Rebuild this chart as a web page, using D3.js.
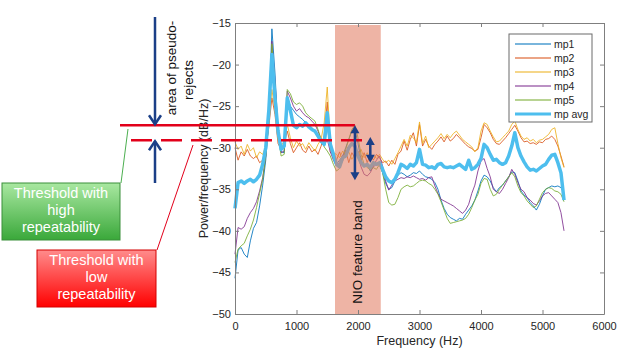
<!DOCTYPE html>
<html>
<head>
<meta charset="utf-8">
<script src="https://cdn.jsdelivr.net/npm/d3@7"></script>
<style>
  body { margin: 0; background: #fff; }
  svg { display: block; font-family: "Liberation Sans", Arial, sans-serif; }
</style>
</head>
<body>
<svg id="chart" width="632" height="351"></svg>
<script>
// frequency grid (Hz)
const freq = [
  0, 50, 100, 150, 200, 250, 300, 350, 400, 450,
  500, 550, 600, 650, 700, 750, 800, 850, 900, 950,
  1000, 1050, 1100, 1150, 1200, 1250, 1300, 1350, 1400, 1450,
  1500, 1550, 1600, 1650, 1700, 1750, 1800, 1850, 1900, 1950,
  2000, 2050, 2100, 2150, 2200, 2250, 2300, 2350, 2400, 2450,
  2500, 2550, 2600, 2650, 2700, 2750, 2800, 2850, 2900, 2950,
  3000, 3050, 3100, 3150, 3200, 3250, 3300, 3350, 3400, 3450,
  3500, 3550, 3600, 3650, 3700, 3750, 3800, 3850, 3900, 3950,
  4000, 4050, 4100, 4150, 4200, 4250, 4300, 4350, 4400, 4450,
  4500, 4550, 4600, 4650, 4700, 4750, 4800, 4850, 4900, 4950,
  5000, 5050, 5100, 5150, 5200, 5250, 5300, 5350
];

const mp1 = [
  -45.7, -42.3, -42.0, -42.8, -43.2, -41.2, -39.7, -39.0, -37.0, -34.5,
  -31.5, -26.5, -15.7, -21.0, -28.0, -30.5, -30.6, -23.8, -25.0, -25.5,
  -26.0, -26.3, -26.6, -27.0, -27.2, -27.6, -28.0, -28.8, -29.4, -29.8,
  -27.5, -30.0, -31.2, -32.0, -31.5, -31.0, -30.0, -29.0, -28.0, -27.8,
  -29.5, -31.5, -32.3, -32.0, -32.8, -32.3, -32.0, -32.0, -33.0, -34.3,
  -35.0, -34.8, -34.0, -33.3, -33.0, -33.2, -33.5, -33.3, -33.0, -33.1,
  -32.8, -33.2, -33.5, -33.6, -33.8, -34.2, -35.0, -36.3, -37.3, -38.0,
  -38.4, -38.6, -38.8, -38.5, -38.6, -38.0, -37.5, -37.0, -36.3, -35.2,
  -34.0, -33.3, -33.5, -34.0, -34.8, -35.3, -34.8, -34.5, -34.0, -33.5,
  -32.9, -33.0, -34.0, -35.2, -35.7, -36.0, -36.6, -37.0, -37.5, -36.8,
  -35.8, -35.0, -34.8, -34.6, -34.7, -34.6, -34.8, -35.5
];

const mp2 = [
  -30.0, -31.5, -30.5, -31.0, -30.2, -31.0, -31.3, -31.0, -31.8, -31.5,
  -30.2, -27.5, -24.0, -26.0, -29.5, -30.2, -29.5, -28.0, -29.5, -30.6,
  -30.0, -29.4, -30.3, -30.6, -29.8, -30.5, -30.2, -30.8, -29.8, -28.5,
  -24.5, -30.5, -31.0, -31.5, -30.5, -31.6, -30.3, -31.8, -30.6, -31.2,
  -30.4, -31.5, -30.6, -31.8, -30.8, -31.5, -30.8, -31.2, -31.8, -31.6,
  -32.2, -31.5, -32.0, -30.8, -30.4, -29.2, -30.3, -29.0, -28.2, -29.8,
  -27.2, -29.8, -29.0, -29.8, -30.2, -29.6, -29.2, -28.7, -29.3, -28.6,
  -29.2, -28.9, -28.4, -28.8, -29.2, -29.6, -29.9, -30.1, -30.4, -30.2,
  -28.8, -27.2, -27.6, -28.2, -29.0, -29.5, -29.6, -29.2, -28.8, -28.3,
  -27.8, -27.3, -28.0, -28.8, -29.3, -29.2, -29.5, -29.4, -29.6, -29.3,
  -29.4, -29.0, -28.9, -28.6, -29.0, -29.8, -31.0, -32.3
];

const mp3 = [
  -29.3, -30.2, -29.8, -30.8, -29.6, -30.4, -30.0, -31.2, -30.5, -30.8,
  -29.8, -27.0, -23.0, -25.5, -29.0, -29.8, -29.2, -27.2, -28.8, -30.0,
  -29.2, -29.8, -29.5, -30.2, -29.4, -29.9, -30.4, -29.6, -29.0, -27.0,
  -22.7, -29.5, -30.6, -30.8, -31.2, -30.4, -31.0, -30.5, -31.4, -30.8,
  -31.0, -30.2, -31.2, -30.6, -31.4, -30.9, -31.3, -30.8, -31.4, -31.8,
  -31.5, -32.0, -31.3, -30.6, -29.8, -29.0, -29.8, -28.5, -28.8, -29.4,
  -26.9, -29.5, -28.6, -30.0, -29.6, -29.2, -28.8, -28.3, -28.9, -28.4,
  -28.8, -28.3, -28.0, -28.5, -29.0, -29.3, -29.6, -29.9, -30.5, -30.0,
  -28.0, -27.0, -27.2, -28.0, -28.7, -29.3, -29.2, -28.8, -28.4, -28.0,
  -27.2, -26.8, -27.8, -28.6, -29.0, -28.8, -29.2, -29.0, -29.4, -29.1,
  -29.0, -28.7, -28.4, -27.8, -27.6, -29.5, -31.2, -32.4
];

const mp4 = [
  -42.8, -39.6, -39.8, -39.5, -38.5, -37.8, -37.3, -36.5, -35.2, -33.6,
  -31.0, -26.5, -17.2, -22.0, -28.0, -30.6, -30.4, -23.2, -24.0, -25.0,
  -25.6, -25.3, -25.8, -26.2, -26.4, -26.8, -27.2, -28.0, -29.0, -29.8,
  -29.0, -30.5, -31.5, -32.2, -31.8, -31.0, -30.5, -30.0, -29.5, -30.0,
  -31.0, -32.3, -33.2, -33.4, -33.0, -32.2, -31.5, -31.0, -32.2, -34.0,
  -35.1, -34.5, -34.0, -33.8, -33.6, -33.7, -33.5, -33.6, -33.4, -33.6,
  -33.8, -33.7, -33.9, -33.6, -33.5, -34.6, -35.5, -36.2, -36.4, -36.6,
  -36.8, -37.0, -37.3, -37.6, -37.9, -37.5, -36.8, -35.5, -34.5, -32.8,
  -31.6, -31.3, -32.5, -33.5, -35.0, -35.3, -35.5, -35.0, -34.3, -33.6,
  -32.6, -33.2, -34.2, -35.0, -35.3, -36.0, -36.3, -36.7, -36.9, -36.4,
  -35.8, -35.5, -35.4, -35.8, -36.2, -36.6, -37.8, -40.0
];

const mp5 = [
  -43.8, -42.2, -41.8, -41.5, -40.6, -39.8, -38.7, -37.2, -35.5, -33.8,
  -31.0, -26.8, -17.5, -22.5, -28.5, -31.0, -30.8, -23.0, -23.5, -24.5,
  -24.8, -24.6, -25.0, -25.8, -26.2, -26.5, -26.8, -27.8, -29.0, -29.9,
  -30.4, -31.0, -32.0, -32.8, -32.5, -31.5, -30.2, -29.0, -27.8, -27.3,
  -28.8, -30.8, -32.0, -32.4, -32.6, -32.4, -32.6, -32.0, -33.0, -35.0,
  -36.6, -36.9, -36.8, -36.0, -35.0, -34.7, -34.5, -34.7, -34.6, -34.3,
  -34.0, -33.9, -34.0, -34.3, -34.5, -35.0, -35.6, -36.5, -37.5, -38.5,
  -39.1, -39.0, -38.9, -38.8, -38.7, -38.5, -38.0, -37.2, -36.3, -35.6,
  -34.3, -33.7, -33.8, -35.0, -35.8, -35.6, -35.0, -34.5, -34.0, -33.5,
  -33.0, -33.5, -34.6, -35.4, -35.8, -36.4, -36.8, -37.2, -37.0, -36.2,
  -35.4, -35.0, -34.8, -34.9, -35.2, -35.3, -35.6, -36.5
];

const mpAvg = [
  -37.3, -34.2, -34.0, -34.3, -34.0, -33.8, -34.1, -33.8, -33.3, -32.0,
  -30.0, -25.5, -18.8, -24.0, -28.0, -30.2, -29.8, -24.0, -25.5, -27.3,
  -27.6, -27.2, -27.4, -27.0, -27.5, -27.8, -28.0, -28.6, -29.2, -29.6,
  -25.8, -29.6, -30.8, -32.0, -32.3, -31.2, -31.0, -30.0, -29.5, -29.8,
  -31.0, -31.8, -32.2, -32.0, -32.4, -31.8, -32.0, -31.8, -32.6, -33.5,
  -34.0, -34.2, -33.8, -33.0, -32.0, -32.2, -32.5, -32.0, -32.2, -31.8,
  -30.2, -32.0, -32.1, -32.4, -32.3, -32.5, -32.0, -31.9, -32.3, -32.4,
  -32.3, -32.4, -32.2, -32.0, -32.3, -32.6, -31.5, -32.6, -32.4, -32.0,
  -31.3, -29.6, -30.0, -30.8, -31.5, -31.4, -31.8, -32.0, -31.8, -31.0,
  -29.8, -28.2, -30.0, -31.0, -31.7, -32.3, -32.7, -32.6, -32.8, -32.5,
  -32.2, -32.0, -31.4, -30.9, -30.8, -31.8, -33.0, -36.3
];

const seriesNames = ["mp1", "mp2", "mp3", "mp4", "mp5", "mp avg"];
const seriesValues = [mp1, mp2, mp3, mp4, mp5, mpAvg];
const seriesColors = ["#0072BD", "#D95319", "#EDB120", "#7E2F8E", "#77AC30", "#4DBEEE"];

const xTicks = [0, 1000, 2000, 3000, 4000, 5000, 6000];
const yTicks = [-50, -45, -40, -35, -30, -25, -20, -15];

// NIO feature band (Hz) and thresholds (dB/Hz)
const band = [1626, 2370];
const thrHigh = -27.3;
const thrLow = -29.1;

const svg = d3.select("#chart");
const plotL = 235, plotR = 604, plotT = 23, plotB = 314;

const x = d3.scaleLinear().domain([0, 6000]).range([plotL, plotR]);
const y = d3.scaleLinear().domain([-50, -15]).range([plotB, plotT]);

// curves
const line = d3.line()
  .x((d, i) => x(freq[i]))
  .y(d => y(d));

seriesValues.forEach((vals, k) => {
  const isAvg = k === 5;
  svg.append("path")
    .datum(vals)
    .attr("d", line)
    .attr("fill", "none")
    .attr("stroke", seriesColors[k])
    .attr("stroke-width", isAvg ? 3.5 : 1)
    .attr("stroke-opacity", isAvg ? 1 : 0.85)
    .attr("stroke-linejoin", "round");
});

// band on top of the curves
svg.append("rect")
  .attr("x", x(band[0]))
  .attr("y", plotT + 2)
  .attr("width", x(band[1]) - x(band[0]))
  .attr("height", plotB - plotT - 1)
  .attr("fill", "#e07a5f")
  .attr("fill-opacity", 0.56);

// axes, boxed like matlab
const fmt = d3.format("");
const axisColor = "#7f7f7f";
function styleAxis(g) {
  g.selectAll("path, line").attr("stroke", axisColor);
  g.selectAll("text")
    .attr("fill", "#262626")
    .style("font-size", "11px")
    .style("font-family", "'Liberation Sans', Arial, sans-serif");
}

svg.append("g")
  .attr("transform", `translate(0,${plotB})`)
  .call(d3.axisBottom(x).tickValues(xTicks).tickFormat(fmt).tickSizeInner(-4).tickSizeOuter(0).tickPadding(8))
  .call(styleAxis);
svg.append("g")
  .attr("transform", `translate(0,${plotT})`)
  .call(d3.axisTop(x).tickValues(xTicks).tickFormat("").tickSizeInner(-4).tickSizeOuter(0))
  .call(styleAxis);
svg.append("g")
  .attr("transform", `translate(${plotL},0)`)
  .call(d3.axisLeft(y).tickValues(yTicks).tickFormat(fmt).tickSizeInner(-4).tickSizeOuter(0).tickPadding(4))
  .call(styleAxis);
svg.append("g")
  .attr("transform", `translate(${plotR},0)`)
  .call(d3.axisRight(y).tickValues(yTicks).tickFormat("").tickSizeInner(-4).tickSizeOuter(0))
  .call(styleAxis);

svg.append("text")
  .attr("x", (plotL + plotR) / 2)
  .attr("y", 345)
  .attr("text-anchor", "middle")
  .attr("fill", "#262626")
  .style("font-size", "12.5px")
  .text("Frequency (Hz)");

svg.append("text")
  .attr("transform", `translate(208,${(plotT + plotB) / 2}) rotate(-90)`)
  .attr("text-anchor", "middle")
  .attr("fill", "#262626")
  .style("font-size", "12.5px")
  .text("Power/frequency (dB/Hz)");

// legend
const lg = svg.append("g").attr("transform", "translate(509,34)");
lg.append("rect")
  .attr("width", 83).attr("height", 88)
  .attr("fill", "#fff")
  .attr("stroke", "#6b6b6b")
  .attr("stroke-width", 1);
seriesNames.forEach((name, k) => {
  const ry = 10 + k * 14;
  lg.append("line")
    .attr("x1", 6).attr("x2", 42)
    .attr("y1", ry).attr("y2", ry)
    .attr("stroke", seriesColors[k])
    .attr("stroke-width", k === 5 ? 3 : 1.5)
    .attr("stroke-opacity", k === 5 ? 1 : 0.7);
  lg.append("text")
    .attr("x", 45).attr("y", ry + 4)
    .attr("fill", "#262626")
    .style("font-size", "10.5px")
    .text(name);
});

// NIO band label
svg.append("text")
  .attr("transform", `translate(362,252) rotate(-90)`)
  .attr("text-anchor", "middle")
  .attr("fill", "#111")
  .style("font-size", "13.5px")
  .text("NIO feature band");

// threshold lines
const red = "#e2001a";
svg.append("line")
  .attr("x1", 120).attr("x2", x(1950))
  .attr("y1", y(thrHigh)).attr("y2", y(thrHigh))
  .attr("stroke", red).attr("stroke-width", 2.5);
svg.append("line")
  .attr("x1", 131).attr("x2", x(2150))
  .attr("y1", y(thrLow)).attr("y2", y(thrLow))
  .attr("stroke", red).attr("stroke-width", 2.5)
  .attr("stroke-dasharray", "21,9");

// arrows
const navy = "#1b3f87";
const ax = 155;
svg.append("line")
  .attr("x1", ax).attr("x2", ax).attr("y1", 17).attr("y2", y(thrHigh) - 1)
  .attr("stroke", navy).attr("stroke-width", 2.5);
svg.append("path")
  .attr("d", `M${ax - 6},${y(thrHigh) - 10} L${ax},${y(thrHigh) - 1} L${ax + 6},${y(thrHigh) - 10}`)
  .attr("fill", "none").attr("stroke", navy).attr("stroke-width", 2.5);
svg.append("line")
  .attr("x1", ax).attr("x2", ax).attr("y1", 183).attr("y2", y(thrLow) + 1)
  .attr("stroke", navy).attr("stroke-width", 2.5);
svg.append("path")
  .attr("d", `M${ax - 6},${y(thrLow) + 10} L${ax},${y(thrLow) + 1} L${ax + 6},${y(thrLow) + 10}`)
  .attr("fill", "none").attr("stroke", navy).attr("stroke-width", 2.5);

function doubleArrow(f, v1, v2) {
  const px = x(f), y1 = y(v1), y2 = y(v2);
  svg.append("line")
    .attr("x1", px).attr("x2", px).attr("y1", y1 + 6).attr("y2", y2 - 6)
    .attr("stroke", navy).attr("stroke-width", 2.5);
  svg.append("path")
    .attr("d", `M${px},${y1} L${px - 4.5},${y1 + 8} L${px + 4.5},${y1 + 8}Z M${px},${y2} L${px - 4.5},${y2 - 8} L${px + 4.5},${y2 - 8}Z`)
    .attr("fill", navy);
}
doubleArrow(1950, thrHigh, -33.9);
doubleArrow(2200, -28.7, -31.8);

// "area of pseudo-rejects"
svg.append("text")
  .attr("transform", "translate(176,68) rotate(-90)")
  .attr("text-anchor", "middle")
  .attr("fill", "#111")
  .style("font-size", "13.5px")
  .text("area of pseudo-");
svg.append("text")
  .attr("transform", "translate(193,80) rotate(-90)")
  .attr("text-anchor", "middle")
  .attr("fill", "#111")
  .style("font-size", "13.5px")
  .text("rejects");

// callout boxes
const defs = svg.append("defs");
function grad(id, c1, c2) {
  const g = defs.append("linearGradient").attr("id", id)
    .attr("x1", 0).attr("y1", 0).attr("x2", 0).attr("y2", 1);
  g.append("stop").attr("offset", "0%").attr("stop-color", c1);
  g.append("stop").attr("offset", "100%").attr("stop-color", c2);
}
grad("gGreen", "#a9e8a1", "#3aa83a");
grad("gRed", "#ff8c8c", "#ff0000");

svg.append("line")
  .attr("x1", 128).attr("y1", 129).attr("x2", 121).attr("y2", 183)
  .attr("stroke", "#4caf50").attr("stroke-width", 1);
svg.append("line")
  .attr("x1", 193).attr("y1", 145).attr("x2", 157).attr("y2", 250)
  .attr("stroke", red).attr("stroke-width", 1);

function callout(bx, by, w, h, fill, stroke, lines) {
  svg.append("rect")
    .attr("x", bx).attr("y", by).attr("width", w).attr("height", h)
    .attr("fill", fill).attr("stroke", stroke).attr("stroke-width", 1);
  lines.forEach((t, i) => {
    svg.append("text")
      .attr("x", bx + w / 2).attr("y", by + 15 + i * 17)
      .attr("text-anchor", "middle")
      .attr("fill", "#fff")
      .style("font-size", "14.5px")
      .text(t);
  });
}
callout(2, 183, 118, 57, "url(#gGreen)", "#3b8f3b", ["Threshold with", "high", "repeatability"]);
callout(37, 250, 119, 57, "url(#gRed)", "#d40000", ["Threshold with", "low", "repeatability"]);
</script>
</body>
</html>
